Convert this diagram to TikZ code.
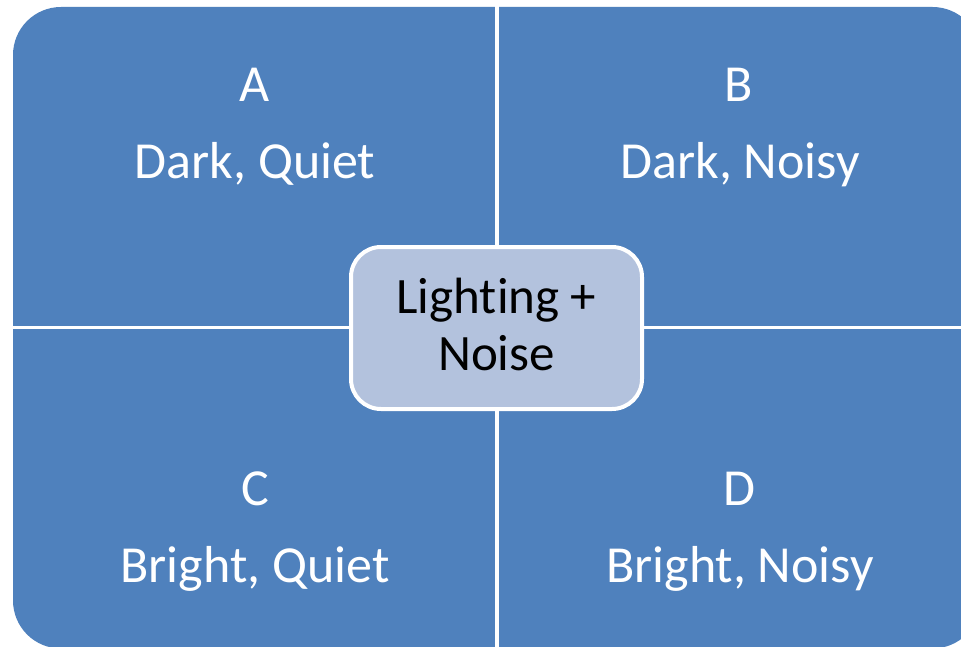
\documentclass[tikz,border=0pt]{standalone}
\usepackage{fontspec}
\setmainfont[Ligatures=NoCommon]{Carlito}
\definecolor{quadblue}{RGB}{79,129,189}
\definecolor{centerfill}{RGB}{179,194,221}
\begin{document}
\begin{tikzpicture}[x=1pt,y=-1pt,
  quadtext/.style={text=white,font=\fontsize{52}{62}\selectfont,inner sep=0pt,anchor=base},
  centertext/.style={text=black,font=\fontsize{51}{60}\selectfont,inner sep=0pt,anchor=base},
  centerbox/.style={fill=centerfill,draw=white,line width=4pt,rounded corners=30pt}]
\useasboundingbox (0,0) rectangle (961,647);
\clip (0,0) rectangle (961,647);
\fill[white] (0,0) rectangle (961,647);
% outer rounded shape split into four quadrants
\fill[quadblue,rounded corners=48pt] (13,7) rectangle (980.5,648.5);
\draw[white,line width=4.5pt] (497,0) -- (497,660);
\draw[white,line width=3.5pt] (0,327.5) -- (990,327.5);
% centre box
\path[centerbox] (351,247) rectangle (642,409);
\node[centertext] (l1) at (496.5,313.5) {Lighting +};
\node[centertext] (l2) at (496.5,370) {Noise};
% quadrant labels
\node[quadtext] (a1) at (255,102) {A};
\node[quadtext] (a2) at (255,179) {Dark, Quiet};
\node[quadtext] (b1) at (739,102) {B};
\node[quadtext] (b2) at (740,179) {Dark, Noisy};
\node[quadtext] (c1) at (255,505) {C};
\node[quadtext] (c2) at (255,582) {Bright, Quiet};
\node[quadtext] (d1) at (739,505) {D};
\node[quadtext] (d2) at (740,582) {Bright, Noisy};
\end{tikzpicture}
\end{document}
